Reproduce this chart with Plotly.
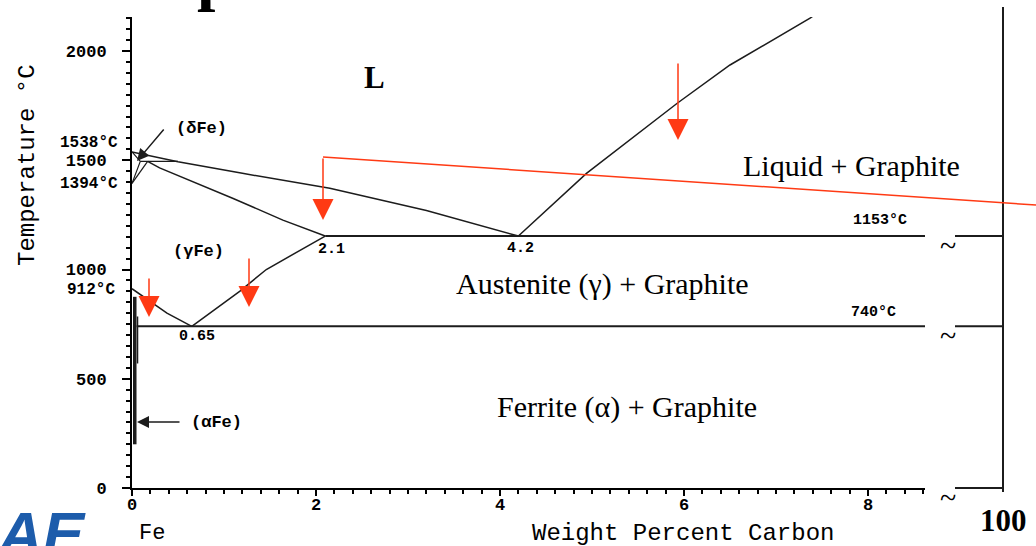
import plotly.graph_objects as go

# ---------------- Fe–C (graphite) phase diagram data ----------------
# compositions in wt% carbon, temperatures in °C
T_MELT = 1538
T_DELTA_GAMMA = 1394
T_ALPHA_GAMMA = 912
T_PERITECTIC = 1495
T_EUTECTIC = 1153
T_EUTECTOID = 740
C_DELTA_MAX = 0.09
C_PERITECTIC = 0.17
C_PERITECTIC_LIQ = 0.5
C_GAMMA_MAX = 2.1
C_EUTECTIC = 4.2
C_EUTECTOID = 0.65
C_AXIS_END = 8.62

# liquidus, iron-rich side
liq_fe_c = [0, 0.5, 1.2, 2.15, 3.2, 4.2]
liq_fe_t = [1538, 1493, 1440, 1372, 1270, 1153]
# austenite solidus
sol_c = [0.17, 0.3, 1.1, 1.64, 2.1]
sol_t = [1495, 1465, 1325, 1226, 1153]
# gamma / (alpha + gamma) boundary
a3_c = [0, 0.2, 0.38, 0.65]
a3_t = [912, 855, 800, 740]
# graphite solubility in austenite
acm_c = [0.65, 1.17, 1.46, 2.1]
acm_t = [740, 900, 1000, 1153]
# liquidus, graphite side
liq_gr_c = [4.2, 4.94, 5.93, 6.5, 7.37, 7.45]
liq_gr_t = [1153, 1440, 1762, 1936, 2150, 2175]
# alpha-iron field along the iron axis
alpha_c = [0.03, 0.03]
alpha_t = [875, 200]
alpha2_c = [0.06, 0.06]
alpha2_t = [785, 570]

x_ticks = [0, 2, 4, 6, 8]
x_tick_text = ["0", "2", "4", "6", "8"]
y_ticks = [0, 500, 1000, 1500, 2000]

# ---------------- page geometry ----------------
W, H = 1036, 546
X0_PX, Y0_PX = 132, 488          # pixel position of (0 %C, 0 °C)
PX_PER_C = 92.0
PX_PER_DEG = 0.2185
X_END_PX, Y_TOP_PX = 925, 17
INK = "#1c1c1c"
RED = "#ff3a14"
MONO = "Liberation Mono"
SERIF = "Liberation Serif"

# minor tick positions every 0.2 %C, rounded so they never drift off the major ticks
x_minor = [round(i * 0.2, 1) for i in range(0, 44) if i % 10]


def cx(px):
    return (px - X0_PX) / PX_PER_C


def ty(py):
    return (Y0_PX - py) / PX_PER_DEG


fig = go.Figure()


def curve(xs, ys, width=1.5, color=INK, full=False):
    fig.add_trace(go.Scatter(
        x=xs, y=ys, mode="lines", line=dict(color=color, width=width),
        hoverinfo="skip", showlegend=False,
        xaxis="x2" if full else "x", yaxis="y2" if full else "y"))


# phase boundaries
curve(liq_fe_c, liq_fe_t)
curve(sol_c, sol_t)
curve(a3_c, a3_t)
curve(acm_c, acm_t)
curve(liq_gr_c, liq_gr_t)
curve([0, C_DELTA_MAX, 0], [T_MELT, T_PERITECTIC, T_DELTA_GAMMA], width=1.2)
curve([0, C_PERITECTIC], [T_DELTA_GAMMA, T_PERITECTIC], width=1.2)
curve([C_DELTA_MAX, C_PERITECTIC_LIQ], [T_PERITECTIC, T_PERITECTIC], width=1.2)
curve([C_GAMMA_MAX, C_AXIS_END], [T_EUTECTIC, T_EUTECTIC], width=2)
curve([0.05, C_AXIS_END], [T_EUTECTOID, T_EUTECTOID], width=2)
curve(alpha_c, alpha_t, width=3.5)
curve(alpha2_c, alpha2_t, width=1.5)

# broken axis out to 100 % carbon
X_BREAK = cx(955)
X_100 = cx(1003)
curve([X_100, X_100], [ty(492), ty(7)], width=2, full=True)
for t in (T_EUTECTIC, T_EUTECTOID, 0):
    curve([X_BREAK, X_100], [t, t], width=2, full=True)

# red construction line
RED_KNEE = (cx(323), ty(157))
curve([RED_KNEE[0], cx(W)], [RED_KNEE[1], ty(205)], width=1.5, color=RED, full=True)

annotations = []


def label(text, px, py, size=17, family=MONO, weight="bold", anchor="center",
          angle=0, color="black", style="normal", vanchor="middle"):
    annotations.append(dict(
        text=text, x=cx(px), y=ty(py), xref="x2", yref="y2", showarrow=False,
        xanchor=anchor, yanchor=vanchor, textangle=angle,
        font=dict(family=family, size=size, color=color, weight=weight, style=style)))


def arrow(x_tip, y_tip, x_tail, y_tail, color=RED, width=1.5, size=2.8):
    annotations.append(dict(
        text="", x=x_tip, y=y_tip, ax=x_tail, ay=y_tail,
        xref="x2", yref="y2", axref="x2", ayref="y2",
        showarrow=True, arrowhead=2, arrowsize=size, arrowwidth=width,
        arrowcolor=color, standoff=0))


# red arrows
arrow(RED_KNEE[0], ty(220), RED_KNEE[0], RED_KNEE[1])
arrow(cx(678), ty(140), cx(678), ty(62))
arrow(cx(149), ty(317), cx(149), ty(277))
arrow(cx(249), ty(307), cx(249), ty(257))

# black pointer arrows
arrow(cx(137), ty(161), cx(165), ty(128), color=INK, width=1.5, size=1.6)
arrow(cx(137), ty(422), cx(181), ty(422), color=INK, width=1.5, size=1.6)

# composition tick labels, placed on the x axis scale just under the axis line
tick_font = dict(family=MONO, size=17, color="black", weight="bold")
for v, txt in zip(x_ticks, x_tick_text):
    annotations.append(dict(
        text=txt, x=v, y=ty(505), xref="x", yref="y2", showarrow=False,
        xanchor="center", yanchor="middle", font=tick_font))

# temperature / composition labels on the diagram
label(f"{T_MELT}°C", 120, 143, size=16, anchor="right")
label(f"{T_DELTA_GAMMA}°C", 120, 184, size=16, anchor="right")
label(f"{T_ALPHA_GAMMA}°C", 117, 290, size=16, anchor="right")
label("(δFe)", 201, 128, size=17)
label("(γFe)", 198, 251, size=17)
label("(αFe)", 216, 422, size=17)
label(f"{C_GAMMA_MAX}", 331, 249, size=15)
label(f"{C_EUTECTIC}", 520, 248, size=15)
label(f"{C_EUTECTOID}", 197, 336, size=15)
label(f"{T_EUTECTIC}°C", 880, 220, size=15)
label(f"{T_EUTECTOID}°C", 873, 312, size=15)
label("Fe", 152, 519, size=22, weight="normal", vanchor="top")
label("Weight Percent Carbon", 683, 518, size=24, weight="normal", vanchor="top")
label("Temperature °C", 27, 165, size=24, weight="normal", angle=-90)

# phase field names
label("L", 374, 77, size=31, family=SERIF)
label("Liquid + Graphite", 851, 165, size=30, family=SERIF, weight="normal")
label("Austenite (γ) + Graphite", 602, 284, size=30, family=SERIF, weight="normal")
label("Ferrite (α) + Graphite", 627, 407, size=30, family=SERIF, weight="normal")
for t in (T_EUTECTIC, T_EUTECTOID, 0):
    annotations.append(dict(
        text="~", x=cx(948), y=t, xref="x2", yref="y2", yshift=-9,
        showarrow=False, font=dict(family=SERIF, size=30, color="black")))
label("100", 978, 520, size=31, family=SERIF, anchor="left")

# slide title fragment and logo
annotations.append(dict(
    text="p", x=195 / W, y=1 - 14 / H, xref="paper", yref="paper",
    xanchor="left", yanchor="bottom", showarrow=False,
    font=dict(family=SERIF, size=66, color="black", weight="bold")))
annotations.append(dict(
    text="AE", x=88 / W, y=1 - 497 / H, xref="paper", yref="paper",
    xanchor="right", yanchor="top", showarrow=False,
    font=dict(family="Liberation Sans", size=62, color="#1d5cab",
              weight="bold", style="italic")))

fig.update_layout(
    width=W, height=H, margin=dict(l=0, r=0, t=0, b=0, autoexpand=False),
    paper_bgcolor="white", plot_bgcolor="rgba(0,0,0,0)", showlegend=False,
    xaxis=dict(
        domain=[X0_PX / W, X_END_PX / W], range=[0, (X_END_PX - X0_PX) / PX_PER_C],
        anchor="y", automargin=False, showgrid=False, zeroline=False, showline=True,
        linecolor="black", linewidth=2, ticks="outside", ticklen=6, tickwidth=2,
        tickcolor="black", tickmode="array", tickvals=x_ticks, showticklabels=False,
        minor=dict(tickmode="array", tickvals=x_minor, ticks="outside", ticklen=4,
                   tickwidth=1.5, tickcolor="black")),
    yaxis=dict(
        domain=[(H - Y0_PX) / H, (H - Y_TOP_PX) / H], range=[0, (Y0_PX - Y_TOP_PX) / PX_PER_DEG],
        anchor="x", automargin=False, showgrid=False, zeroline=False, showline=True,
        linecolor="black", linewidth=2, ticks="outside", ticklen=8, tickwidth=2,
        tickcolor="black", tickvals=y_ticks, tickfont=tick_font, ticklabelstandoff=12,
        ticklabeloverflow="allow",
        minor=dict(dtick=50, ticks="outside", ticklen=4, tickwidth=1.5, tickcolor="black")),
    xaxis2=dict(domain=[0, 1], range=[-X0_PX / PX_PER_C, (W - X0_PX) / PX_PER_C],
                anchor="y2", visible=False, fixedrange=True, automargin=False),
    yaxis2=dict(domain=[0, 1], range=[-(H - Y0_PX) / PX_PER_DEG, Y0_PX / PX_PER_DEG],
                anchor="x2", visible=False, fixedrange=True, automargin=False),
    annotations=annotations,
)

fig.write_html("out.html")
